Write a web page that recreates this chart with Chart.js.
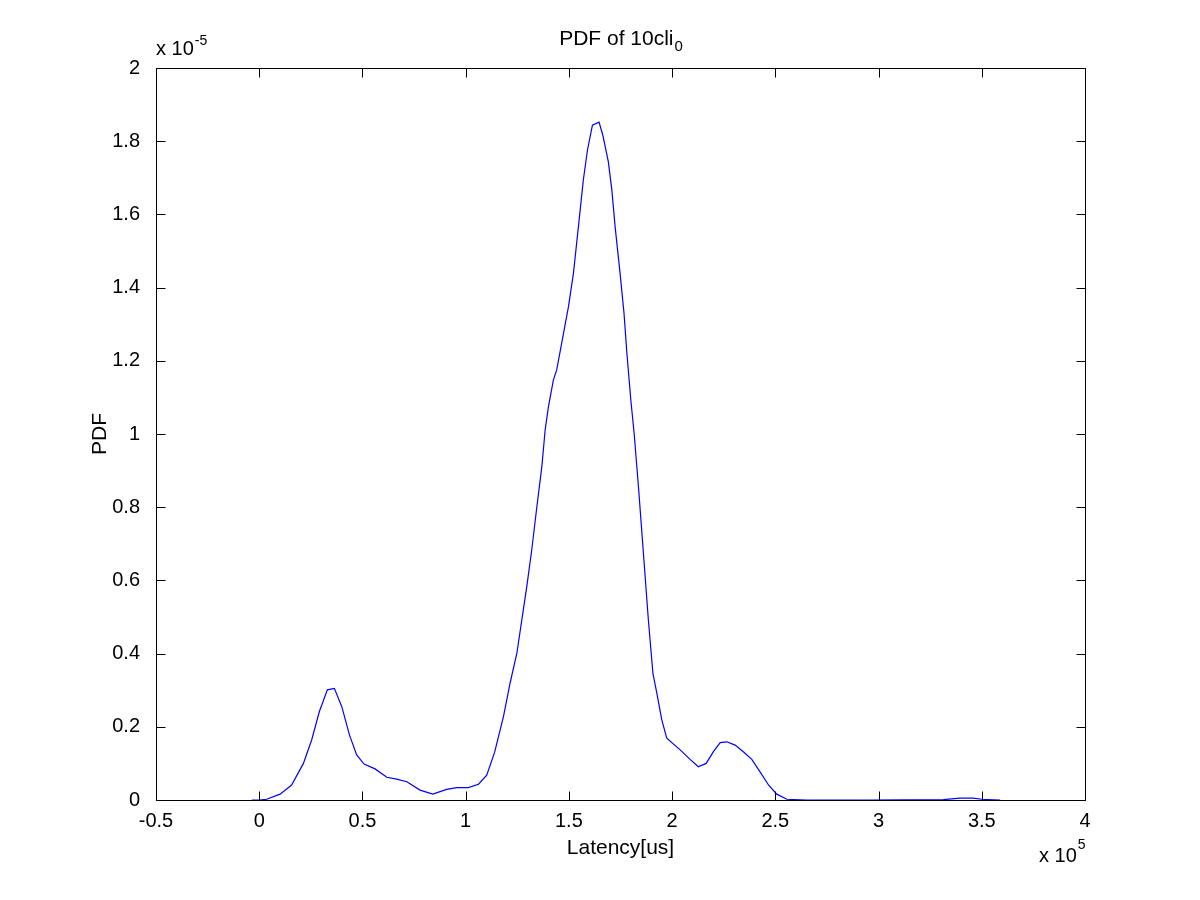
<!DOCTYPE html>
<html><head><meta charset="utf-8">
<script src="https://cdn.jsdelivr.net/npm/chart.js@4/dist/chart.umd.min.js"></script>
<style>html,body{margin:0;padding:0;background:#fff}canvas{display:block}</style>
</head><body>
<canvas id="c" width="1200" height="900" style="width:1200px;height:900px"></canvas>
<script>
// Latency in units of 1e5 us, PDF in units of 1e-5
const latency = [-0.036,0.000,0.036,0.101,0.157,0.214,0.254,0.291,0.330,0.364,0.400,0.437,0.472,0.508,0.561,0.618,0.666,0.715,0.779,0.841,0.908,0.957,1.013,1.062,1.102,1.140,1.183,1.215,1.248,1.272,1.296,1.320,1.344,1.369,1.385,1.401,1.425,1.441,1.498,1.522,1.546,1.570,1.590,1.614,1.646,1.664,1.691,1.708,1.724,1.748,1.767,1.781,1.800,1.816,1.837,1.861,1.885,1.907,1.926,1.950,1.974,2.039,2.087,2.127,2.165,2.200,2.233,2.265,2.305,2.345,2.386,2.426,2.467,2.507,2.556,2.653,2.950,3.314,3.395,3.458,3.500,3.589];
const pdf = [0.000,0.000,0.002,0.016,0.041,0.100,0.164,0.241,0.301,0.305,0.255,0.178,0.123,0.098,0.085,0.062,0.057,0.050,0.027,0.016,0.029,0.034,0.034,0.043,0.068,0.130,0.228,0.319,0.401,0.492,0.583,0.683,0.797,0.911,1.011,1.075,1.148,1.175,1.348,1.439,1.566,1.694,1.776,1.844,1.852,1.817,1.744,1.667,1.566,1.439,1.330,1.220,1.093,1.002,0.856,0.674,0.492,0.346,0.292,0.219,0.169,0.137,0.111,0.091,0.100,0.132,0.157,0.159,0.150,0.132,0.111,0.077,0.041,0.016,0.002,0.000,0.000,0.001,0.005,0.005,0.002,0.000];
const xTicks = [-0.5,0,0.5,1,1.5,2,2.5,3,3.5,4];
const yTicks = [0,0.2,0.4,0.6,0.8,1,1.2,1.4,1.6,1.8,2];
const xTickLabels = ['-0.5','0','0.5','1','1.5','2','2.5','3','3.5','4'];
const yTickLabels = ['0','0.2','0.4','0.6','0.8','1','1.2','1.4','1.6','1.8','2'];

const FONT = "'Liberation Sans', Arial, sans-serif";
const points = latency.map((x, i) => ({x: x, y: pdf[i]}));

const matlabAxes = {
  id: 'matlabAxes',
  afterDatasetsDraw(chart) {
    const ctx = chart.ctx, a = chart.chartArea;
    const xs = chart.scales.x, ys = chart.scales.y;
    ctx.save();
    ctx.strokeStyle = '#000';
    ctx.lineWidth = 1;
    const L = Math.round(a.left) + 0.5, R = Math.round(a.right) + 0.5;
    const T = Math.round(a.top) + 0.5, B = Math.round(a.bottom) + 0.5;
    ctx.beginPath();
    ctx.rect(L, T, R - L, B - T);
    const tl = 9;
    xTicks.forEach(v => {
      const p = Math.round(xs.getPixelForValue(v)) + 0.5;
      ctx.moveTo(p, B); ctx.lineTo(p, B - tl);
      ctx.moveTo(p, T); ctx.lineTo(p, T + tl);
    });
    yTicks.forEach(v => {
      const p = Math.round(ys.getPixelForValue(v)) + 0.5;
      ctx.moveTo(L, p); ctx.lineTo(L + tl, p);
      ctx.moveTo(R, p); ctx.lineTo(R - tl, p);
    });
    ctx.stroke();

    ctx.fillStyle = '#000';
    const cx = (a.left + a.right) / 2;
    // Title with subscript
    const tMain = 'PDF of 10cli', tSub = '0';
    ctx.font = '21px ' + FONT;
    const wMain = ctx.measureText(tMain).width;
    ctx.font = '15px ' + FONT;
    const wSub = ctx.measureText(tSub).width;
    const x0 = cx - (wMain + wSub) / 2;
    ctx.textAlign = 'left';
    ctx.textBaseline = 'alphabetic';
    ctx.font = '21px ' + FONT;
    ctx.fillText(tMain, x0, 45);
    ctx.font = '15px ' + FONT;
    ctx.fillText(tSub, x0 + wMain + 1, 51);

    // X label
    ctx.font = '21px ' + FONT;
    ctx.textAlign = 'center';
    ctx.fillText('Latency[us]', cx, 854);

    // Y label
    ctx.save();
    ctx.translate(106, (a.top + a.bottom) / 2);
    ctx.rotate(-Math.PI / 2);
    ctx.textAlign = 'center';
    ctx.fillText('PDF', 0, 0);
    ctx.restore();

    // Exponent top-left
    ctx.textAlign = 'left';
    ctx.font = '20px ' + FONT;
    ctx.fillText('x 10', a.left, 55);
    const w1 = ctx.measureText('x 10').width;
    ctx.font = '14px ' + FONT;
    ctx.fillText('-5', a.left + w1 + 1, 45);

    // Exponent bottom-right
    ctx.font = '20px ' + FONT;
    const w2 = ctx.measureText('x 10').width;
    ctx.fillText('x 10', 1039, 862);
    ctx.font = '14px ' + FONT;
    ctx.fillText('5', 1039 + w2 + 1, 849);
    ctx.restore();
  }
};

new Chart(document.getElementById('c'), {
  type: 'scatter',
  data: {
    datasets: [{
      data: points,
      showLine: true,
      borderColor: '#0000ff',
      borderWidth: 1.2,
      pointRadius: 0,
      pointHoverRadius: 0,
      tension: 0,
      fill: false
    }]
  },
  options: {
    responsive: false,
    animation: false,
    devicePixelRatio: 1,
    layout: {padding: {top: 68, right: 115, left: 0, bottom: 0}},
    plugins: {legend: {display: false}, tooltip: {enabled: false}, title: {display: false}},
    scales: {
      x: {
        type: 'linear', min: -0.5, max: 4,
        afterBuildTicks: s => { s.ticks = xTicks.map(v => ({value: v})); },
        afterFit: s => { s.height = 100; },
        grid: {display: false}, border: {display: false},
        ticks: {
          autoSkip: false, maxRotation: 0, padding: 1, color: '#000',
          font: {family: FONT, size: 20},
          callback: (v) => { const i = xTicks.indexOf(v); return i >= 0 ? xTickLabels[i] : ''; }
        }
      },
      y: {
        type: 'linear', min: 0, max: 2,
        afterBuildTicks: s => { s.ticks = yTicks.map(v => ({value: v})); },
        afterFit: s => { s.width = 156; },
        grid: {display: false}, border: {display: false},
        ticks: {
          autoSkip: false, padding: 8, color: '#000',
          font: {family: FONT, size: 20},
          callback: (v) => { const i = yTicks.findIndex(t => Math.abs(t - v) < 1e-9); return i >= 0 ? yTickLabels[i] : ''; }
        }
      }
    }
  },
  plugins: [matlabAxes]
});
</script>
</body></html>
